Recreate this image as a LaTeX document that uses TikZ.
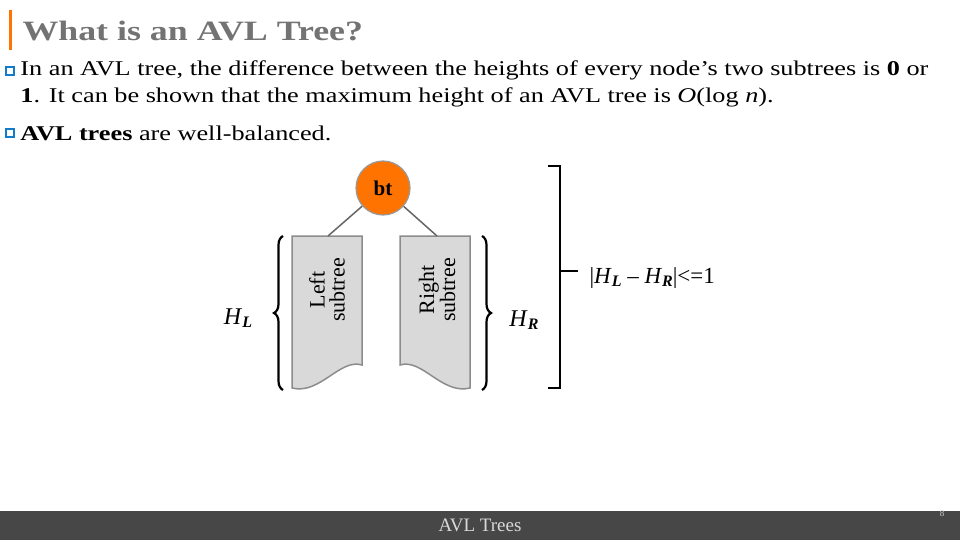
\documentclass[tikz,border=0pt]{standalone}
\usepackage{fontspec}
\setmainfont{Liberation Serif}
\usetikzlibrary{decorations.pathreplacing}
\newcommand{\HH}[1]{\textit{H}\raisebox{-0.3ex}{\fontsize{16}{16}\selectfont\textbf{\textit{#1}}}}
\begin{document}
\begin{tikzpicture}[x=1pt,y=-1pt,
 sub/.style={draw=gray!90,line width=1.5pt,fill=gray!30},
 br/.style={line width=2.2pt,decorate,decoration={brace,amplitude=9pt}},
 bul/.style={draw=cyan!60!blue,line width=1.5pt,fill=white,minimum size=8pt,inner sep=0pt}]
\useasboundingbox (0,0) rectangle (960,540);
\fill[white] (0,0) rectangle (960,540);
\fill[orange!90!red] (9,10) rectangle (12,50);
\node[anchor=west,text=gray!90!black,xscale=1.28,font=\fontsize{28}{30}\selectfont\bfseries] (title) at (18,31) {What is an AVL Tree?};
\node[bul] (b1) at (10,71) {};
\node[anchor=west,xscale=1.25,font=\fontsize{21}{27}\selectfont,align=left] (t1) at (16,84) {In an AVL tree, the difference between the heights of every node's two subtrees is \textbf{0} or\\ \textbf{1}. It can be shown that the maximum height of an AVL tree is \textit{O}(log \textit{n}).};
\node[bul] (b2) at (10,133) {};
\node[anchor=west,xscale=1.25,font=\fontsize{21}{25}\selectfont] (t2) at (16,133) {\textbf{AVL trees} are well-balanced.};
% subtrees
\draw[sub] (292,236) -- (362,236) -- (362,365) .. controls (340,358) and (320,395) .. (292,388) -- cycle;
\draw[sub] (400,236) -- (470,236) -- (470,388) .. controls (442,395) and (422,358) .. (400,365) -- cycle;
\node[rotate=90,align=center,font=\fontsize{22}{20}\selectfont] (ls) at (327,290) {Left\\subtree};
\node[rotate=90,align=center,font=\fontsize{22}{20}\selectfont] (rs) at (437,290) {Right\\subtree};
\node[circle,draw=gray!80,line width=1.2pt,fill=orange!90!red,minimum size=54pt,inner sep=0pt,font=\fontsize{21}{21}\selectfont\bfseries] (bt) at (383,188) {bt};
\draw[gray!80!black,line width=1.5pt] (bt) -- (328,236);
\draw[gray!80!black,line width=1.5pt] (bt) -- (437,236);
\draw[br] (283,390) -- (283,236);
\draw[br] (482,236) -- (482,390);
\draw[line width=2.4pt] (548,166) -- (560,166) -- (560,388) -- (548,388);
\draw[line width=2.4pt] (560,271) -- (578,271);
\node[font=\fontsize{24}{24}\selectfont] (hl) at (238,318) {\HH{L}};
\node[font=\fontsize{24}{24}\selectfont] (hr) at (524,320) {\HH{R}};
\node[anchor=west,font=\fontsize{23}{23}\selectfont] (eq) at (586,278) {|\HH{L} -- \HH{R}|<=1};
\fill[black!72] (0,511) rectangle (960,540);
\node[text=gray!30,font=\fontsize{19}{19}\selectfont] (ft) at (480,525) {AVL Trees};
\node[text=gray!40,font=\fontsize{9}{9}\selectfont] (pg) at (942,514) {8};
\end{tikzpicture}
\end{document}
